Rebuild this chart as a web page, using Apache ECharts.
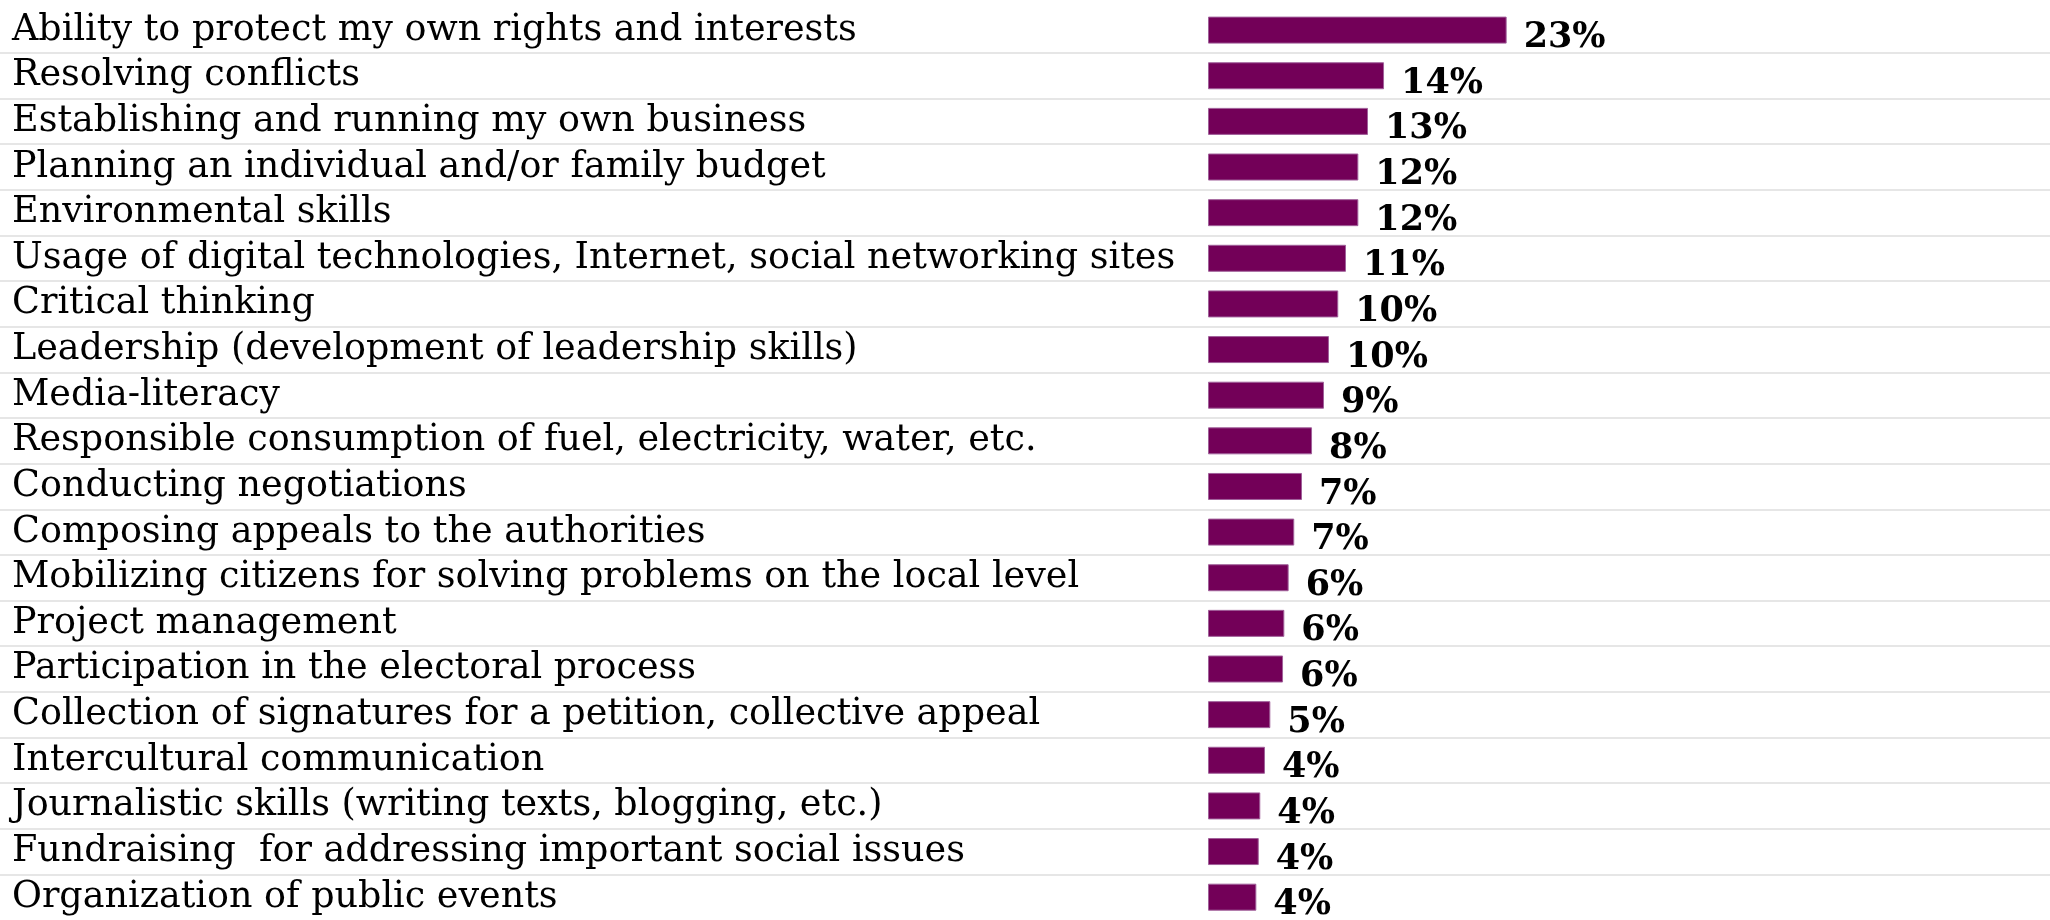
<!DOCTYPE html>
<html>
<head>
<meta charset="utf-8">
<script src="https://cdn.jsdelivr.net/npm/echarts@6/dist/echarts.min.js"></script>
<style>
html,body{margin:0;padding:0;background:#fff;}
#chart{width:2050px;height:920px;}
</style>
</head>
<body>
<div id="chart"></div>
<script>
const categories = [
  "Ability to protect my own rights and interests",
  "Resolving conflicts",
  "Establishing and running my own business",
  "Planning an individual and/or family budget",
  "Environmental skills",
  "Usage of digital technologies, Internet, social networking sites",
  "Critical thinking",
  "Leadership (development of leadership skills)",
  "Media-literacy",
  "Responsible consumption of fuel, electricity, water, etc.",
  "Conducting negotiations",
  "Composing appeals to the authorities",
  "Mobilizing citizens for solving problems on the local level",
  "Project management",
  "Participation in the electoral process",
  "Collection of signatures for a petition, collective appeal",
  "Intercultural communication",
  "Journalistic skills (writing texts, blogging, etc.)",
  "Fundraising  for addressing important social issues",
  "Organization of public events"
];
const values = [23.48, 13.84, 12.58, 11.82, 11.82, 10.85, 10.24, 9.51, 9.12, 8.18,
                7.39, 6.78, 6.34, 6.0, 5.9, 4.9, 4.48, 4.11, 3.99, 3.8];

const chart = echarts.init(document.getElementById('chart'), null, {renderer: 'canvas'});
const TOP = 7.3, H = 920;
chart.setOption({
  backgroundColor: '#ffffff',
  animation: false,
  grid: [
    {left: 0, right: 0, top: TOP, height: H, containLabel: false},
    {left: 1208, right: 0, top: TOP, height: H, containLabel: false}
  ],
  xAxis: [
    {gridIndex: 0, type: 'value', show: false, min: 0, max: 1},
    {gridIndex: 1, type: 'value', show: false, min: 0, max: 66.2}
  ],
  yAxis: [
    {
      gridIndex: 0, type: 'category', data: categories, inverse: true,
      axisLine: {show: false}, axisTick: {show: false, interval: 0},
      splitLine: {show: true, interval: 0, showMinLine: false, showMaxLine: false,
                  lineStyle: {color: '#dedede', width: 1.5}},
      axisLabel: {
        interval: 0, hideOverlap: false,
        inside: true, align: 'left', margin: 12, verticalAlign: 'middle',
        color: '#000', fontFamily: 'DejaVu Serif', fontSize: 36.5,
        padding: [0, 0, 10, 0]
      }
    },
    {
      gridIndex: 1, type: 'category', data: categories, inverse: true, show: false
    }
  ],
  series: [{
    type: 'bar',
    xAxisIndex: 1, yAxisIndex: 1,
    data: values,
    barWidth: 27,
    itemStyle: {color: '#730058', borderColor: '#a0609a', borderWidth: 1},
    label: {
      show: true, position: 'right', distance: 17,
      offset: [0, 8],
      color: '#000', fontFamily: 'DejaVu Serif', fontWeight: 'bold', fontSize: 35,
      formatter: p => Math.round(p.value) + '%'
    }
  }]
});
</script>
</body>
</html>
